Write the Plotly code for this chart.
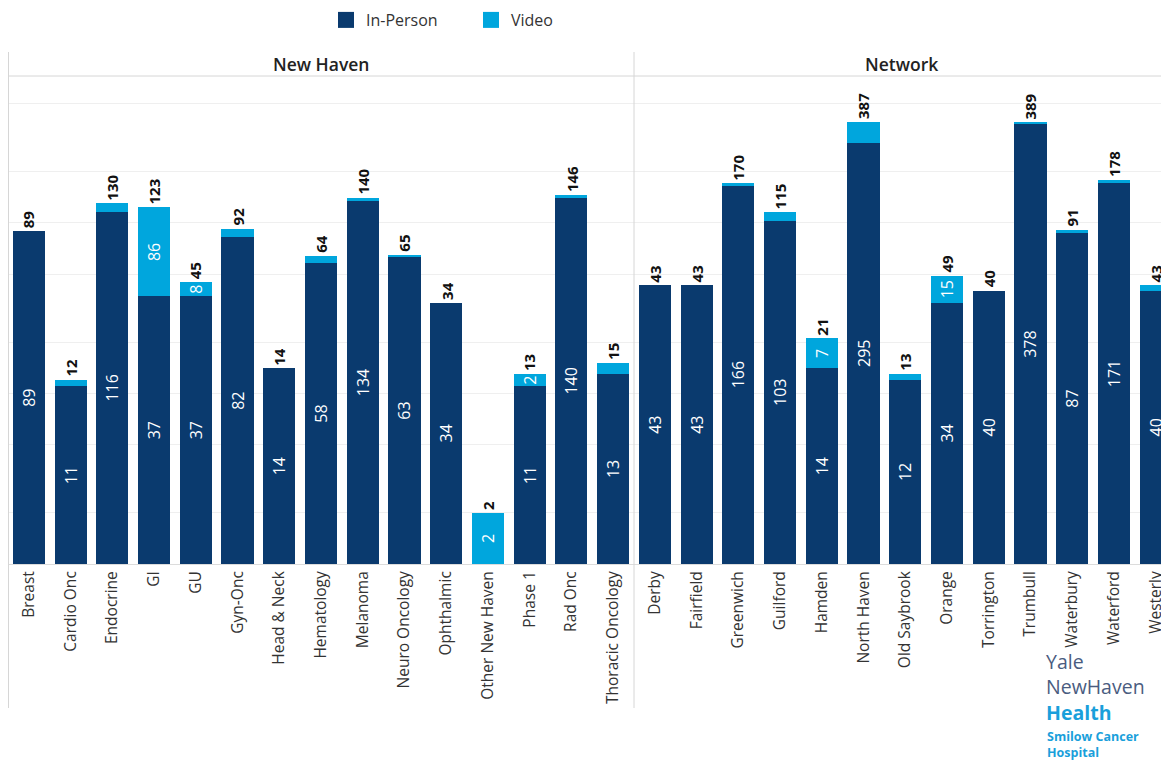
import math
import plotly.graph_objects as go

# ---- data ----
nh_cats = ["Breast", "Cardio Onc", "Endocrine", "GI", "GU", "Gyn-Onc", "Head & Neck",
           "Hematology", "Melanoma", "Neuro Oncology", "Ophthalmic", "Other New Haven",
           "Phase 1", "Rad Onc", "Thoracic Oncology"]
nh_inperson = [89, 11, 116, 37, 37, 82, 14, 58, 134, 63, 34, 0, 11, 140, 13]
nh_video = [0, 1, 14, 86, 8, 10, 0, 6, 6, 2, 0, 2, 2, 6, 2]
nh_video_lbl = ["", "", "", "86", "8", "", "", "", "", "", "", "2", "2", "", ""]

net_cats = ["Derby", "Fairfield", "Greenwich", "Guilford", "Hamden", "North Haven",
            "Old Saybrook", "Orange", "Torrington", "Trumbull", "Waterbury", "Waterford", "Westerly"]
net_inperson = [43, 43, 166, 103, 14, 295, 12, 34, 40, 378, 87, 171, 40]
net_video = [0, 0, 4, 12, 7, 92, 1, 15, 0, 11, 4, 7, 3]
net_video_lbl = ["", "", "", "", "7", "", "", "15", "", "", "", "", ""]

grid_vals = [2, 5, 10, 20, 50, 100, 200, 500]

C_IP = "#0a3a6e"
C_V = "#00a6dd"
FONT = "Open Sans"

W, H = 1161, 752
MT, MB = 68, 196
PH = H - MT - MB
x1_dom = [0.0, 626 / W]
x2_dom = [626 / W, 1.0]

fig = go.Figure()

def add_panel(cats, ip, vid, vlbl, xa, ya):
    fig.add_trace(go.Bar(
        x=cats, y=ip, name="In-Person", marker=dict(color=C_IP, line=dict(width=0)),
        text=[str(v) if v > 0 else "" for v in ip], textposition="inside",
        insidetextanchor="middle", textangle=-90,
        textfont=dict(color="white", size=16, family=FONT),
        xaxis=xa, yaxis=ya, showlegend=False))
    fig.add_trace(go.Bar(
        x=cats, y=vid, name="Video", marker=dict(color=C_V, line=dict(width=0)),
        text=vlbl, textposition="inside", insidetextanchor="middle", textangle=-90,
        constraintext="none",
        textfont=dict(color="white", size=16, family=FONT),
        xaxis=xa, yaxis=ya, showlegend=False))
    for c, a, b in zip(cats, ip, vid):
        tot = a + b
        fig.add_annotation(x=c, y=math.log10(tot), xref=xa, yref=ya,
                           text=f"<b>{tot}</b>", textangle=-90, showarrow=False,
                           yanchor="bottom", yshift=1,
                           font=dict(size=15, color="#111", family=FONT))

add_panel(nh_cats, nh_inperson, nh_video, nh_video_lbl, "x", "y")
add_panel(net_cats, net_inperson, net_video, net_video_lbl, "x2", "y2")

# legend entries
for nm, col in (("In-Person", C_IP), ("Video", C_V)):
    fig.add_trace(go.Scatter(x=[None], y=[None], mode="markers", name=nm,
                             marker=dict(symbol="square", size=19, color=col),
                             xaxis="x", yaxis="y", showlegend=True))

yax = dict(type="log", range=[0, 2.86], tickvals=grid_vals, showticklabels=False,
           showgrid=True, gridcolor="#efefef", gridwidth=1, zeroline=False, showline=False,
           fixedrange=True)
xax = dict(tickangle=-90, tickfont=dict(size=15.5, color="#333", family=FONT),
           showline=True, linecolor="#dcdcdc", linewidth=1, showgrid=False, ticks="")

fig.update_layout(
    width=W, height=H,
    margin=dict(l=0, r=0, t=MT, b=MB, autoexpand=False),
    paper_bgcolor="white", plot_bgcolor="white",
    barmode="stack", bargap=0.23,
    font=dict(family=FONT, color="#333"),
    xaxis=dict(domain=x1_dom, anchor="y", range=[-0.5, len(nh_cats) - 0.5], **xax),
    xaxis2=dict(domain=x2_dom, anchor="y2", range=[-0.5, 12.32], **xax),
    yaxis=dict(anchor="x", **yax),
    yaxis2=dict(anchor="x2", matches="y", **yax),
    legend=dict(orientation="h", x=318 / W, xanchor="left", y=1 + (MT - 12) / PH,
                yanchor="middle", font=dict(size=16, color="#333", family=FONT),
                traceorder="normal",
                entrywidth=100, entrywidthmode="pixels",
                itemwidth=30, bgcolor="rgba(0,0,0,0)"),
)

def py(px):
    return (H - MB - px) / PH

# panel headers
for xd, t in (("x domain", "New Haven"), ("x2 domain", "Network")):
    fig.add_annotation(x=0.5, xref=xd, y=py(56), yref="paper", text=t,
                       showarrow=False, yanchor="middle",
                       font=dict(size=17.5, color="#222", family=FONT, weight=600))

# frame lines
fig.add_shape(type="line", xref="paper", yref="paper", x0=0, x1=1, y0=1, y1=1,
              line=dict(color="#d6d6d6", width=1))
for xp in (0.5, 626):
    fig.add_shape(type="line", xref="paper", yref="paper", x0=xp / W, x1=xp / W,
                  y0=py(44), y1=py(700), line=dict(color="#d6d6d6", width=1))

# logo
fig.add_annotation(x=1037 / W, xref="paper", y=py(679), yref="paper",
                   text="Yale<br>NewHaven<br><b><span style='color:#1a9fdb'>Health</span></b>",
                   showarrow=False, xanchor="left", yanchor="middle", align="left",
                   borderpad=0, font=dict(size=19.5, color="#4a5c80", family=FONT))
fig.add_annotation(x=1038 / W, xref="paper", y=py(736), yref="paper",
                   text="<b>Smilow Cancer<br>Hospital</b>",
                   showarrow=False, xanchor="left", yanchor="middle", align="left",
                   borderpad=0, font=dict(size=12.5, color="#1a9fdb", family=FONT))

fig.write_html(
    "out.html",
    post_script="document.documentElement.style.overflow='hidden';"
                "document.body.style.overflow='hidden';",
)
